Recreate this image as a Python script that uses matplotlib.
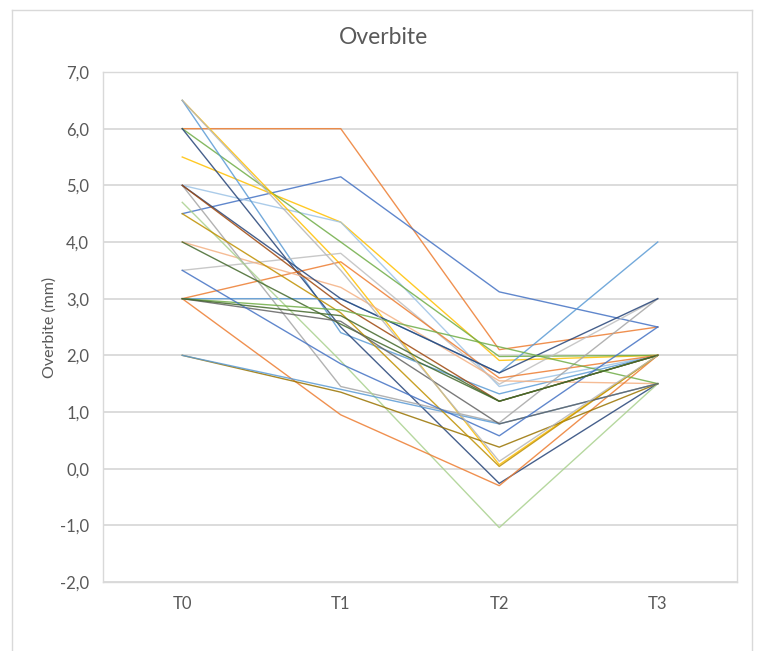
import matplotlib.pyplot as plt
from matplotlib.lines import Line2D
from matplotlib.ticker import FuncFormatter

plt.rcParams['font.family'] = ['Lato', 'DejaVu Sans']

# time points
times = ['T0', 'T1', 'T2', 'T3']

# overbite per patient (mm) at T0, T1, T2, T3
p01 = [6.0, 6.0, 2.1, 2.5]
p02 = [4.5, 5.15, 3.12, 2.5]
p03 = [5.5, 4.35, 1.91, 2.0]
p04 = [5.0, 4.35, 1.45, 2.0]
p05 = [6.0, 4.0, 1.98, 2.0]
p06 = [6.5, 3.6, 0.07, 2.0]
p07 = [6.5, 2.4, 1.32, 2.0]
p08 = [6.0, 2.5, -0.26, 1.5]
p09 = [3.5, 3.8, 1.49, 3.0]
p10 = [3.0, 3.65, 1.6, 2.0]
p11 = [4.0, 3.2, 1.55, 1.5]
p12 = [3.0, 3.0, 1.69, 4.0]
p13 = [5.0, 1.45, 0.81, 3.0]
p14 = [4.7, 1.9, -1.04, 1.5]
p15 = [3.0, 0.95, -0.3, 2.0]
p16 = [2.0, 1.35, 0.38, 1.5]
p17 = [2.0, 1.4, 0.79, 1.5]
p18 = [5.0, 3.0, 1.69, 3.0]
p19 = [5.0, 2.9, 1.19, 2.0]
p20 = [4.0, 2.55, 1.19, 2.0]
p21 = [4.5, 2.75, 0.04, 2.0]
p22 = [3.0, 2.8, 2.15, 1.5]
p23 = [3.0, 2.6, 0.79, 1.5]
p24 = [3.5, 1.85, 0.58, 2.5]
p25 = [6.5, 3.5, 0.13, 2.0]
p26 = [3.0, 2.7, 1.19, 2.0]

patients = [p01, p02, p03, p04, p05, p06, p07, p08, p09, p10, p11, p12, p13,
            p14, p15, p16, p17, p18, p19, p20, p21, p22, p23, p24, p25, p26]

colors = ['#ED7D31', '#4472C4', '#FFC000', '#9DC3E6', '#70AD47', '#FFC000',
          '#5B9BD5', '#264478', '#BFBFBF', '#ED7D31', '#F4B183', '#5B9BD5',
          '#A5A5A5', '#A9D18E', '#ED7D31', '#997300', '#5B9BD5', '#264478',
          '#9E480E', '#43682B', '#BF9000', '#70AD47', '#636363', '#4472C4',
          '#B7B7B7', '#43682B']

fig = plt.figure(figsize=(7.63, 6.51), dpi=100)
ax = fig.add_axes([103 / 763, 1 - 582 / 651, 634 / 763, 510 / 651])

x = list(range(len(times)))
for vals, c in zip(patients, colors):
    ax.plot(x, vals, color=c, lw=1.0, alpha=0.85, zorder=3)

ax.set_xlim(-0.5, 3.5)
ax.set_ylim(-2, 7)
ax.set_yticks(range(-2, 8))
ax.yaxis.set_major_formatter(FuncFormatter(lambda v, p: f'{v:.1f}'.replace('.', ',')))
ax.set_xticks(x)
ax.set_xticklabels(times)
ax.grid(axis='y', color='#D9D9D9', lw=1.3, zorder=0)
ax.tick_params(length=0, labelsize=12, labelcolor='#595959')
ax.tick_params(axis='y', pad=10)
ax.tick_params(axis='x', pad=10)
for s in ax.spines.values():
    s.set_color('#D9D9D9')
    s.set_linewidth(1.0)

ax.set_ylabel('Overbite (mm)', fontsize=11.5, color='#595959', labelpad=2)
fig.text(383 / 763, 1 - 38 / 651, 'Overbite', ha='center', va='center',
         fontsize=16.5, color='#595959')

# outer chart frame
fx0, fx1, fy1 = 12 / 763, 752 / 763, 1 - 10 / 651
for xs, ys in [([fx0, fx0], [0, fy1]), ([fx1, fx1], [0, fy1]), ([fx0, fx1], [fy1, fy1])]:
    fig.add_artist(Line2D(xs, ys, color='#D9D9D9', lw=1.0, transform=fig.transFigure))

fig.savefig('out.png', dpi=100)
